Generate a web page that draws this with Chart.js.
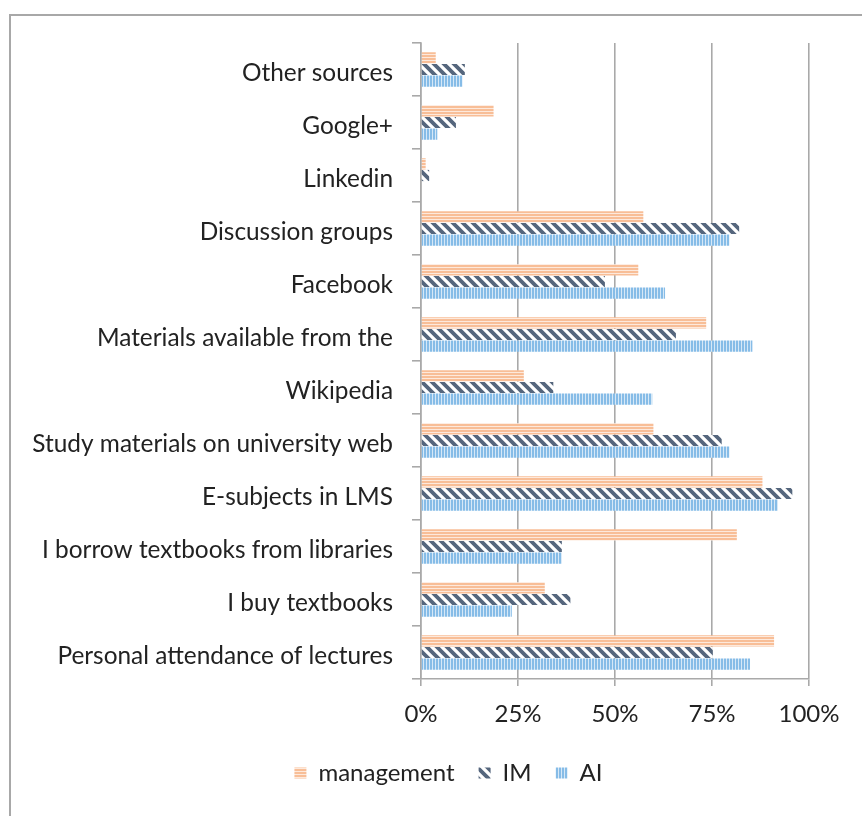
<!DOCTYPE html>
<html>
<head>
<meta charset="utf-8">
<script src="https://cdn.jsdelivr.net/npm/chart.js@4/dist/chart.umd.min.js"></script>
<style>
  html, body { margin: 0; padding: 0; background: #fff; }
  #wrap { position: relative; width: 862px; height: 816px; overflow: hidden; }
  #frame { position: absolute; left: 9px; top: 14px; width: 900px; height: 900px;
           border-left: 2px solid #a8a8a8; border-top: 2px solid #a8a8a8; box-sizing: border-box; }
  canvas { position: absolute; left: 0; top: 0; }
</style>
</head>
<body>
<div id="wrap">
  <div id="frame"></div>
  <canvas id="c" width="862" height="816"></canvas>
</div>
<script>
// Information sources used by students, share of respondents per study programme
const categories = [
  "Other sources",
  "Google+",
  "Linkedin",
  "Discussion groups",
  "Facebook",
  "Materials available from the",
  "Wikipedia",
  "Study materials on university web",
  "E-subjects in LMS",
  "I borrow textbooks from libraries",
  "I buy textbooks",
  "Personal attendance of lectures"
];
const seriesNames = ["management", "IM", "AI"];
const management = [3.8, 18.7, 1.2, 57.3, 56.0, 73.5, 26.5, 59.9, 88.0, 81.4, 31.9, 91.0];
const im         = [11.3, 9.0, 2.1, 82.0, 47.4, 65.7, 34.1, 77.5, 95.7, 36.3, 38.5, 75.2];
const ai         = [10.7, 4.2, 0.0, 79.5, 62.9, 85.4, 59.6, 79.5, 92.0, 36.3, 23.4, 84.8];
const tickValues = [0, 25, 50, 75, 100];

const FONT = "Lato";

function makeTile(w, h, draw) {
  const t = document.createElement("canvas");
  t.width = w; t.height = h;
  const g = t.getContext("2d");
  draw(g, w, h);
  return document.getElementById("c").getContext("2d").createPattern(t, "repeat");
}

// horizontal light orange lines
const patManagement = makeTile(4, 3, (g, w, h) => {
  g.fillStyle = "#fde9dc"; g.fillRect(0, 0, w, h);
  g.fillStyle = "#f8be97"; g.fillRect(0, 1, w, 2);
});

// wide dark downward diagonal
const patIM = makeTile(10, 10, (g, w, h) => {
  g.fillStyle = "#ffffff"; g.fillRect(0, 0, w, h);
  g.strokeStyle = "#55667d"; g.lineWidth = 3.8;
  g.beginPath();
  g.moveTo(-w, -h); g.lineTo(2 * w, 2 * h);
  g.moveTo(-w, 0); g.lineTo(w, 2 * h);
  g.moveTo(0, -h); g.lineTo(2 * w, h);
  g.stroke();
});

// vertical light blue lines
const patAI = makeTile(3, 4, (g, w, h) => {
  g.fillStyle = "#d6e8f7"; g.fillRect(0, 0, w, h);
  g.fillStyle = "#86bce7"; g.fillRect(1, 0, 2, h);
});

const gridGray = "#a9a9a9";

// moves the centred legend row to the right of the canvas centre
const legendShift = {
  id: "legendShift",
  afterLayout(chart) {
    const lg = chart.legend;
    if (lg) { lg.left += 44; lg.right += 44; }
  }
};

new Chart(document.getElementById("c"), {
  type: "bar",
  data: {
    labels: categories,
    datasets: [
      { label: seriesNames[0], data: management, backgroundColor: patManagement },
      { label: seriesNames[1], data: im, backgroundColor: patIM },
      { label: seriesNames[2], data: ai, backgroundColor: patAI }
    ]
  },
  plugins: [legendShift],
  options: {
    indexAxis: "y",
    responsive: false,
    animation: false,
    devicePixelRatio: 1,
    categoryPercentage: 0.66,
    barPercentage: 0.96,
    layout: { padding: { left: 0, right: 53, top: 43, bottom: 21 } },
    scales: {
      x: {
        min: 0, max: 100,
        afterBuildTicks: (s) => { s.ticks = tickValues.map(v => ({ value: v })); },
        afterFit: (s) => { s.height = 58; },
        ticks: {
          color: "#222",
          padding: 14,
          font: { family: FONT, size: 24 },
          callback: (v) => v + "%"
        },
        grid: { color: gridGray, lineWidth: 1.6, tickLength: 7, drawTicks: true },
        border: { color: gridGray, width: 1.6 }
      },
      y: {
        afterFit: (s) => { s.width = 421; },
        ticks: {
          color: "#222",
          padding: 19,
          labelOffset: 4,
          font: { family: FONT, size: 24.4 }
        },
        grid: { drawOnChartArea: false, color: gridGray, lineWidth: 1.6, tickLength: 9, offset: true },
        border: { color: gridGray, width: 1.6 }
      }
    },
    plugins: {
      legend: {
        position: "bottom",
        labels: {
          color: "#222",
          boxWidth: 12,
          boxHeight: 11,
          padding: 24,
          font: { family: FONT, size: 24 }
        }
      },
      tooltip: { enabled: false }
    }
  }
});
</script>
</body>
</html>
